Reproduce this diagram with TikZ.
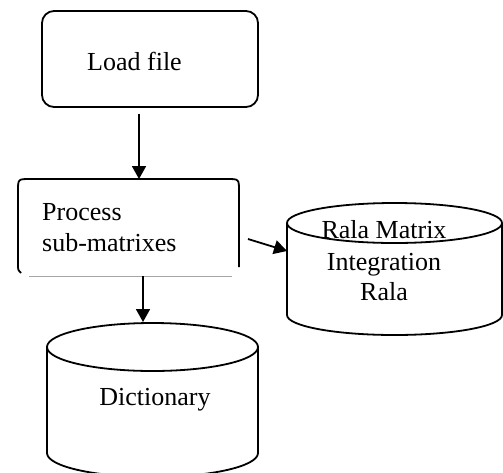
\documentclass[tikz,border=0pt]{standalone}
\usepackage{fontspec}
\setmainfont{Liberation Serif}
\usetikzlibrary{arrows.meta}
\begin{document}
\begin{tikzpicture}[x=1pt,y=-1pt,
  shapeline/.style={line width=1.8pt, line join=round},
  conn/.style={line width=1.8pt, -{Triangle[length=13pt,width=14pt]}},
  lbl/.style={inner sep=0pt, font=\fontsize{26}{31}\selectfont},
]
\useasboundingbox (0,0) rectangle (503,472);
\clip (0,0) rectangle (503,472);
% Load file box
\node[shapeline, draw, rounded corners=12pt, minimum width=216pt, minimum height=96pt, inner sep=0pt] (load) at (150,59) {};
\node[lbl, anchor=base west] (loadtxt) at (87,70) {Load file};
% Process box
\draw[shapeline] (21,273) .. controls (18,270) .. (18,264) -- (18,191) .. controls (18,179) .. (30,179) -- (227,179) .. controls (239,179) .. (239,191) -- (239,267);
\draw[gray!70, line width=0.8pt] (29,276) -- (232,276);
\coordinate (proctop) at (139,179);
\coordinate (procbot) at (143,276);
\coordinate (procright) at (248,239);
\node[lbl, anchor=base west] (proc1) at (42,220) {Process};
\node[lbl, anchor=base west] (proc2) at (42,251) {sub-matrixes};
% Rala cylinder
\draw[shapeline] (287,223) -- (287,315) arc[start angle=180, end angle=360, x radius=107.5, y radius=-20] -- (502,223);
\draw[shapeline] (394.5,223) ellipse[x radius=107.5, y radius=20];
\coordinate (ralaleft) at (287,251);
\node[lbl, anchor=base] (rala1) at (384,238) {Rala Matrix};
\node[lbl, anchor=base] (rala2) at (384,270) {Integration};
\node[lbl, anchor=base] (rala3) at (384,300) {Rala};
% Dictionary cylinder
\draw[shapeline] (47,347) -- (47,453) arc[start angle=180, end angle=360, x radius=105.5, y radius=-24] -- (258,347);
\draw[shapeline] (152.5,347) ellipse[x radius=105.5, y radius=24];
\coordinate (dicttop) at (143,322);
\node[lbl, anchor=base] (dict) at (155,405) {Dictionary};
% connectors
\draw[conn] (load.south -| proctop) ++(0,6) coordinate (loadbot) -- (proctop);
\draw[conn] (procbot) -- (dicttop);
\draw[conn] (procright) -- (ralaleft);
\end{tikzpicture}
\end{document}
